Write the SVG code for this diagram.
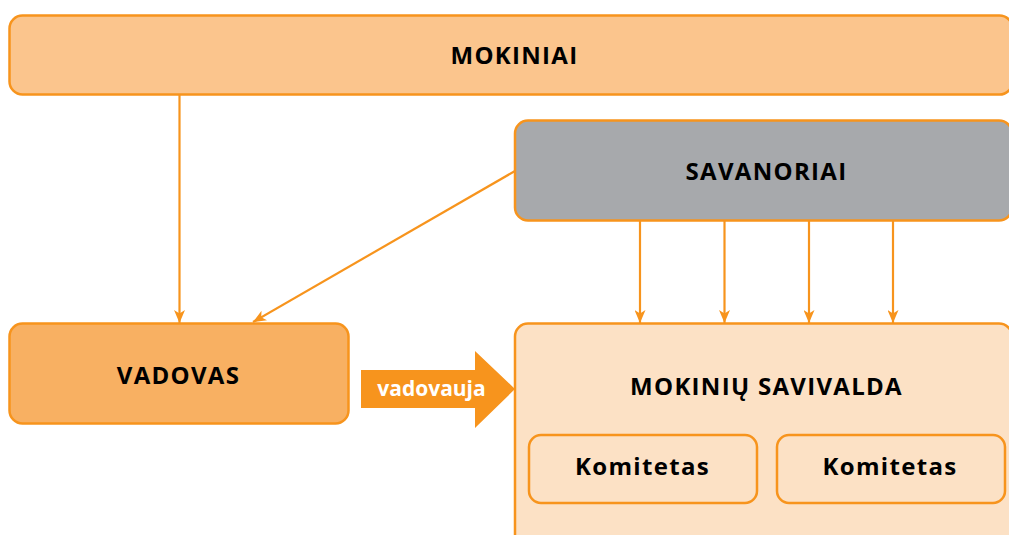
<svg xmlns="http://www.w3.org/2000/svg" width="1009" height="535" viewBox="0 0 1009 535">
<style>
.box{stroke:#F7941D;stroke-width:2.5}
.lbl{font-family:"Open Sans","Liberation Sans",sans-serif;font-weight:bold;font-size:24px;fill:#000;text-anchor:middle;letter-spacing:1.3px}
.conn{stroke:#F7941D;stroke-width:2.2;fill:none}
</style>
<defs>
<marker id="ah" viewBox="0 0 13 11" refX="13" refY="5.5" markerWidth="13" markerHeight="11" markerUnits="userSpaceOnUse" orient="auto">
<path d="M0,0 L13,5.5 L0,11 L3.5,5.5 Z" fill="#F7941D"/>
</marker>
</defs>
<g id="mokiniai">
<rect class="box" x="9.5" y="15.5" width="1003" height="79" rx="13" fill="#FBC58D"/>
<text class="lbl" x="514.5" y="64">MOKINIAI</text>
</g>
<g id="savanoriai">
<rect class="box" x="515" y="120.5" width="497" height="100" rx="13" fill="#A7A9AC"/>
<text class="lbl" x="766.5" y="180">SAVANORIAI</text>
</g>
<g id="vadovas">
<rect class="box" x="9.5" y="323.5" width="339" height="100" rx="13" fill="#F8B062"/>
<text class="lbl" x="178.5" y="384">VADOVAS</text>
</g>
<g id="savivalda">
<rect class="box" x="515" y="323.5" width="497" height="230" rx="13" fill="#FCE1C5"/>
<text class="lbl" x="766.5" y="395">MOKINIŲ SAVIVALDA</text>
</g>
<g id="komitetas1">
<rect class="box" x="529" y="435" width="228" height="68" rx="12" fill="#FCE1C5"/>
<text class="lbl" x="642.5" y="475">Komitetas</text>
</g>
<g id="komitetas2">
<rect class="box" x="777" y="435" width="228" height="68" rx="12" fill="#FCE1C5"/>
<text class="lbl" x="890" y="475">Komitetas</text>
</g>
<g id="connectors">
<line class="conn" x1="179.5" y1="95" x2="179.5" y2="323" marker-end="url(#ah)"/>
<line class="conn" x1="515" y1="171" x2="253" y2="322" marker-end="url(#ah)"/>
<line class="conn" x1="640" y1="221" x2="640" y2="323" marker-end="url(#ah)"/>
<line class="conn" x1="724.5" y1="221" x2="724.5" y2="323" marker-end="url(#ah)"/>
<line class="conn" x1="809" y1="221" x2="809" y2="323" marker-end="url(#ah)"/>
<line class="conn" x1="893" y1="221" x2="893" y2="323" marker-end="url(#ah)"/>
<g id="vadovauja">
<path d="M361,370 H475 V351 L515,389 L475,428 V408 H361 Z" fill="#F7941D"/>
<text x="431.5" y="396" style="font-family:'Open Sans','Liberation Sans',sans-serif;font-weight:bold;font-size:21px;fill:#fff;text-anchor:middle">vadovauja</text>
</g>
</g>
</svg>
